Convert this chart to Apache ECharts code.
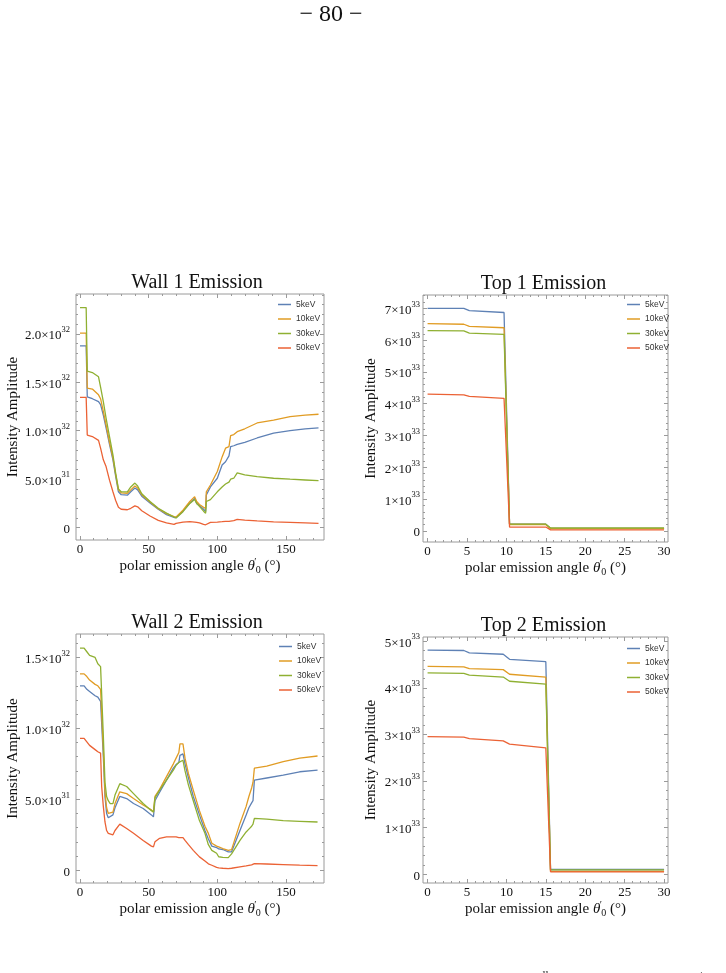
<!DOCTYPE html>
<html>
<head>
<meta charset="utf-8">
<script src="https://cdn.jsdelivr.net/npm/echarts@6/dist/echarts.min.js"></script>
<style>
  html, body { margin: 0; padding: 0; background: #fff; }
  #main { width: 726px; height: 973px; }
</style>
</head>
<body>
<div id="main"></div>
<script>
const seriesNames = ['5keV', '10keV', '30keV', '50keV']
const seriesColors = ['#5e81b5', '#e19c24', '#8fb032', '#eb6235']

// Wall 1 emission, values in units of 1e32
const wall1Angle = [0, 4.5, 5.3, 9, 13.5, 15, 17, 19, 21.5, 24, 26, 28, 30, 34.5, 37, 40, 42, 45, 51, 57, 63, 68.5, 70, 75, 80, 83.5, 85, 87, 90, 91.5, 92, 95, 100, 103.5, 106, 108.5, 109.7, 112, 114.5, 120, 129, 141, 153, 164, 173.7]
const wall1Kev5 = [1.876, 1.876, 1.35, 1.33, 1.30, 1.27, 1.16, 1.03, 0.86, 0.70, 0.53, 0.37, 0.34, 0.335, 0.37, 0.41, 0.39, 0.325, 0.255, 0.19, 0.135, 0.105, 0.105, 0.17, 0.255, 0.30, 0.25, 0.23, 0.19, 0.165, 0.337, 0.42, 0.51, 0.646, 0.68, 0.74, 0.835, 0.845, 0.86, 0.88, 0.925, 0.976, 1.0, 1.02, 1.03]
const wall1Kev10 = [2.007, 2.007, 1.44, 1.43, 1.37, 1.33, 1.20, 1.06, 0.88, 0.72, 0.55, 0.39, 0.36, 0.355, 0.39, 0.43, 0.41, 0.34, 0.265, 0.195, 0.145, 0.115, 0.11, 0.18, 0.27, 0.32, 0.27, 0.24, 0.21, 0.20, 0.37, 0.44, 0.58, 0.73, 0.82, 0.835, 0.95, 0.96, 0.99, 1.02, 1.08, 1.11, 1.145, 1.16, 1.17]
const wall1Kev30 = [2.27, 2.27, 1.615, 1.60, 1.556, 1.45, 1.30, 1.13, 0.94, 0.75, 0.56, 0.40, 0.37, 0.37, 0.42, 0.46, 0.43, 0.35, 0.27, 0.20, 0.15, 0.11, 0.10, 0.165, 0.25, 0.29, 0.25, 0.22, 0.17, 0.148, 0.27, 0.29, 0.37, 0.42, 0.45, 0.47, 0.50, 0.51, 0.565, 0.545, 0.526, 0.51, 0.50, 0.492, 0.485]
const wall1Kev50 = [1.344, 1.344, 0.955, 0.94, 0.90, 0.82, 0.70, 0.63, 0.49, 0.37, 0.28, 0.21, 0.19, 0.185, 0.20, 0.225, 0.215, 0.175, 0.12, 0.075, 0.05, 0.034, 0.045, 0.058, 0.062, 0.058, 0.055, 0.05, 0.035, 0.03, 0.035, 0.055, 0.058, 0.062, 0.065, 0.066, 0.068, 0.072, 0.085, 0.078, 0.07, 0.06, 0.055, 0.05, 0.045]

// Top 1 emission, units of 1e33
const top1Angle = [0, 4.6, 5.3, 9.7, 10.4, 15.0, 15.6, 30]
const top1Kev5 = [7.0, 7.0, 6.93, 6.87, 0.21, 0.21, 0.08, 0.08]
const top1Kev10 = [6.52, 6.50, 6.43, 6.39, 0.20, 0.20, 0.07, 0.07]
const top1Kev30 = [6.30, 6.29, 6.22, 6.18, 0.21, 0.21, 0.09, 0.09]
const top1Kev50 = [4.30, 4.28, 4.23, 4.17, 0.12, 0.12, 0.03, 0.03]

// Wall 2 emission, units of 1e32
const wall2Angle = [0, 3, 5, 7, 11, 13, 15, 15.8, 17, 18.2, 19.4, 20.6, 22, 24, 25.5, 29, 34, 39, 46, 52, 53.5, 54.6, 58, 63, 68, 70, 72, 72.8, 75, 76.5, 79, 82.5, 87, 91, 93.5, 96, 99.5, 101, 104, 108, 110.4, 116.5, 121, 123, 125, 126, 127, 136, 148, 160, 173]
const wall2Kev5 = [1.30, 1.30, 1.275, 1.26, 1.23, 1.22, 1.19, 1.185, 0.80, 0.52, 0.40, 0.37, 0.37, 0.39, 0.44, 0.52, 0.505, 0.47, 0.435, 0.39, 0.376, 0.49, 0.55, 0.635, 0.72, 0.745, 0.76, 0.81, 0.82, 0.75, 0.65, 0.52, 0.39, 0.28, 0.22, 0.17, 0.16, 0.15, 0.146, 0.13, 0.13, 0.28, 0.39, 0.44, 0.475, 0.49, 0.635, 0.65, 0.67, 0.694, 0.706]
const wall2Kev10 = [1.384, 1.384, 1.365, 1.34, 1.31, 1.30, 1.275, 1.27, 0.85, 0.55, 0.44, 0.40, 0.40, 0.41, 0.47, 0.553, 0.54, 0.506, 0.46, 0.425, 0.41, 0.52, 0.57, 0.66, 0.75, 0.79, 0.83, 0.89, 0.89, 0.79, 0.68, 0.565, 0.42, 0.31, 0.26, 0.19, 0.17, 0.165, 0.153, 0.14, 0.145, 0.33, 0.45, 0.52, 0.58, 0.62, 0.72, 0.734, 0.765, 0.79, 0.805]
const wall2Kev30 = [1.565, 1.565, 1.54, 1.515, 1.50, 1.455, 1.435, 1.43, 0.95, 0.62, 0.52, 0.49, 0.47, 0.47, 0.53, 0.61, 0.59, 0.54, 0.47, 0.42, 0.41, 0.51, 0.565, 0.635, 0.705, 0.74, 0.76, 0.765, 0.775, 0.70, 0.60, 0.49, 0.35, 0.26, 0.18, 0.14, 0.12, 0.095, 0.09, 0.089, 0.115, 0.21, 0.27, 0.29, 0.31, 0.325, 0.365, 0.36, 0.35, 0.345, 0.34]
const wall2Kev50 = [0.93, 0.93, 0.905, 0.88, 0.85, 0.835, 0.825, 0.59, 0.45, 0.34, 0.28, 0.26, 0.25, 0.25, 0.28, 0.325, 0.294, 0.26, 0.21, 0.17, 0.165, 0.20, 0.225, 0.235, 0.235, 0.235, 0.23, 0.235, 0.23, 0.21, 0.18, 0.14, 0.094, 0.065, 0.045, 0.035, 0.02, 0.016, 0.014, 0.012, 0.014, 0.024, 0.03, 0.034, 0.038, 0.04, 0.047, 0.044, 0.04, 0.036, 0.033]

// Top 2 emission, units of 1e33
const top2Angle = [0, 4.6, 5.3, 9.6, 10.4, 15.0, 15.6, 30]
const top2Kev5 = [4.81, 4.80, 4.75, 4.72, 4.61, 4.56, 0.10, 0.10]
const top2Kev10 = [4.46, 4.45, 4.41, 4.39, 4.29, 4.23, 0.06, 0.06]
const top2Kev30 = [4.32, 4.31, 4.27, 4.23, 4.14, 4.08, 0.09, 0.09]
const top2Kev50 = [2.95, 2.94, 2.91, 2.86, 2.79, 2.71, 0.05, 0.05]

// tick values
const wallXTicks = [0, 50, 100, 150]
const topXTicks = [0, 5, 10, 15, 20, 25, 30]
const wall1YTicks = [0, 0.5, 1, 1.5, 2]
const wall2YTicks = [0, 0.5, 1, 1.5]
const top1YTicks = [0, 1, 2, 3, 4, 5, 6, 7]
const top2YTicks = [0, 1, 2, 3, 4, 5]

const frameColor = '#9a9a9a'
const textColor = '#111'
const serif = "'Liberation Serif', 'Times New Roman', serif"
const sans = "'Liberation Sans', Arial, sans-serif"

function minorTicks (from, to, step, majors) {
  const out = []
  for (let v = from; v <= to + 1e-9; v += step) {
    const r = Math.round(v * 1000) / 1000
    if (!majors.some(m => Math.abs(m - r) < 1e-6)) out.push(r)
  }
  return out
}

// "2.0×10^32" style labels
function sciLabel (v, exp, dec) {
  if (v === 0) return '{m|0}'
  let m = v
  let e = exp
  while (m < 1) { m = m * 10; e = e - 1 }
  return '{m|' + m.toFixed(dec) + '×10}{e|' + e + '}'
}

const panels = [
  {
    title: 'Wall 1 Emission', angle: wall1Angle,
    values: [wall1Kev5, wall1Kev10, wall1Kev30, wall1Kev50],
    exp: 32, dec: 1, rect: [76, 294, 248, 246],
    xRange: [-2.9, 177.7], yRange: [-0.127, 2.41],
    xTicks: wallXTicks, xMinor: minorTicks(0, 170, 10, wallXTicks),
    yTicks: wall1YTicks, yMinor: minorTicks(0, 2.4, 0.1, wall1YTicks),
    legend: [278, 300], yNameGap: 54, yLabelMargin: 6
  },
  {
    title: 'Top 1 Emission', angle: top1Angle,
    values: [top1Kev5, top1Kev10, top1Kev30, top1Kev50],
    exp: 33, dec: 0, rect: [423, 295, 245, 247],
    xRange: [-0.58, 30.5], yRange: [-0.35, 7.42],
    xTicks: topXTicks, xMinor: minorTicks(0, 30, 1, topXTicks),
    yTicks: top1YTicks, yMinor: minorTicks(0, 7.4, 0.2, top1YTicks),
    legend: [627, 300], yNameGap: 44, yLabelMargin: 3
  },
  {
    title: 'Wall 2 Emission', angle: wall2Angle,
    values: [wall2Kev5, wall2Kev10, wall2Kev30, wall2Kev50],
    exp: 32, dec: 1, rect: [76, 634, 248, 249],
    xRange: [-2.9, 177.7], yRange: [-0.09, 1.665],
    xTicks: wallXTicks, xMinor: minorTicks(0, 170, 10, wallXTicks),
    yTicks: wall2YTicks, yMinor: minorTicks(0, 1.6, 0.1, wall2YTicks),
    legend: [279, 642], yNameGap: 54, yLabelMargin: 6
  },
  {
    title: 'Top 2 Emission', angle: top2Angle,
    values: [top2Kev5, top2Kev10, top2Kev30, top2Kev50],
    exp: 33, dec: 0, rect: [423, 637, 245, 246],
    xRange: [-0.58, 30.5], yRange: [-0.19, 5.09],
    xTicks: topXTicks, xMinor: minorTicks(0, 30, 1, topXTicks),
    yTicks: top2YTicks, yMinor: minorTicks(0, 5, 0.2, top2YTicks),
    legend: [627, 644], yNameGap: 44, yLabelMargin: 3
  }
]

function tickAxis (p, i, range, pos, values, len, extra) {
  return Object.assign({
    type: 'value',
    gridIndex: i,
    position: pos,
    min: range[0],
    max: range[1],
    axisLine: { show: false, onZero: false },
    splitLine: { show: false },
    axisTick: { show: true, inside: true, length: len, customValues: values, lineStyle: { color: frameColor, width: 1 } },
    axisLabel: { show: false }
  }, extra || {})
}

const option = {
  animation: false,
  backgroundColor: '#fff',
  grid: [],
  xAxis: [],
  yAxis: [],
  legend: [],
  series: [],
  graphic: [
    {
      type: 'text', x: 331, y: 15,
      style: { text: '− 80 −', fill: textColor, font: '24px ' + serif, align: 'center', verticalAlign: 'middle' }
    },
    // superscripts of the next text line, cut by the page edge
    {
      type: 'text', x: 543, y: 975,
      style: { text: 'all', fill: textColor, font: '11px ' + serif, align: 'center', verticalAlign: 'middle' }
    },
    {
      type: 'text', x: 707, y: 975,
      style: { text: 'top', fill: textColor, font: '11px ' + serif, align: 'center', verticalAlign: 'middle' }
    }
  ]
}

panels.forEach((p, i) => {
  option.grid.push({
    left: p.rect[0], top: p.rect[1], width: p.rect[2], height: p.rect[3],
    show: true, borderColor: frameColor, borderWidth: 1, backgroundColor: 'transparent'
  })

  option.xAxis.push(tickAxis(p, i, p.xRange, 'bottom', p.xTicks, 4, {
    axisLabel: { show: true, customValues: p.xTicks, margin: 3, fontFamily: serif, fontSize: 13, color: textColor },
    name: 'polar emission angle {i|θ}{p|′}{s|0} (°)',
    nameLocation: 'middle',
    nameGap: 10,
    nameTextStyle: {
      fontFamily: serif, fontSize: 15, color: textColor, lineHeight: 18,
      rich: {
        i: { fontFamily: serif, fontSize: 15, fontStyle: 'italic', color: textColor, lineHeight: 18 },
        p: { fontFamily: serif, fontSize: 10, color: textColor, verticalAlign: 'top', lineHeight: 11, width: 1 },
        s: { fontFamily: serif, fontSize: 10, color: textColor, verticalAlign: 'bottom', lineHeight: 11 }
      }
    }
  }))
  option.xAxis.push(tickAxis(p, i, p.xRange, 'bottom', p.xMinor, 2))
  option.xAxis.push(tickAxis(p, i, p.xRange, 'top', p.xTicks, 4))
  option.xAxis.push(tickAxis(p, i, p.xRange, 'top', p.xMinor, 2))

  option.yAxis.push(tickAxis(p, i, p.yRange, 'left', p.yTicks, 4, {
    axisLabel: {
      show: true,
      customValues: p.yTicks,
      margin: p.yLabelMargin,
      formatter: v => sciLabel(v, p.exp, p.dec),
      rich: {
        m: { fontFamily: serif, fontSize: 13, color: textColor, lineHeight: 17, verticalAlign: 'bottom' },
        e: { fontFamily: serif, fontSize: 8.5, color: textColor, lineHeight: 9, verticalAlign: 'top' }
      }
    },
    name: 'Intensity Amplitude',
    nameLocation: 'middle',
    nameGap: p.yNameGap,
    nameTextStyle: { fontFamily: serif, fontSize: 15, color: textColor }
  }))
  option.yAxis.push(tickAxis(p, i, p.yRange, 'left', p.yMinor, 2))
  option.yAxis.push(tickAxis(p, i, p.yRange, 'right', p.yTicks, 4))
  option.yAxis.push(tickAxis(p, i, p.yRange, 'right', p.yMinor, 2))

  p.values.forEach((vals, k) => {
    option.series.push({
      type: 'line',
      name: seriesNames[k],
      xAxisIndex: i * 4,
      yAxisIndex: i * 4,
      data: p.angle.map((a, j) => [a, vals[j]]),
      symbol: 'none',
      lineStyle: { color: seriesColors[k], width: 1.3 },
      itemStyle: { color: seriesColors[k] },
      z: 2 + k
    })
  })

  option.legend.push({
    data: seriesNames,
    orient: 'vertical',
    left: p.legend[0],
    top: p.legend[1],
    padding: 0,
    icon: 'rect',
    itemWidth: 13,
    itemHeight: 1.5,
    itemGap: 5.5,
    selectedMode: false,
    textStyle: { fontFamily: sans, fontSize: 8.5, color: '#333', lineHeight: 8.5 }
  })

  option.graphic.push({
    type: 'text',
    x: p.rect[0] + p.rect[2] / 2 + (i % 2 === 0 ? -3 : -2),
    y: p.rect[1] - 11,
    style: { text: p.title, fill: textColor, font: '20px ' + serif, align: 'center', verticalAlign: 'middle' }
  })
})

const myChart = echarts.init(document.getElementById('main'))
myChart.setOption(option)
</script>
</body>
</html>
